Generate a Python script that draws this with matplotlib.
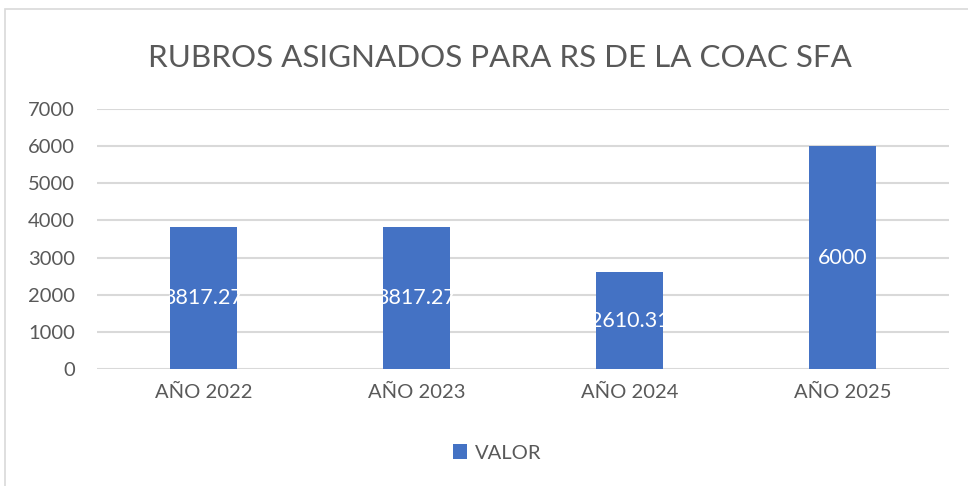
import matplotlib.pyplot as plt
from matplotlib.patches import Rectangle

# data
years = ['AÑO 2022', 'AÑO 2023', 'AÑO 2024', 'AÑO 2025']
valor = [3817.27, 3817.27, 2610.31, 6000]
labels = ['3817.27', '3817.27', '2610.31', '6000']

plt.rcParams['font.family'] = ['Lato', 'DejaVu Sans']
txt = '#595959'
grid = '#D9D9D9'
blue = '#4472C4'

fig = plt.figure(figsize=(9.68, 4.86), dpi=100)
ax = fig.add_axes([0.1002, 0.2407, 0.8802, 0.535])

# outer chart frame
fig.patches.append(Rectangle((5 / 968, -0.1), 1.2, 1 - 9 / 486 + 0.1, transform=fig.transFigure,
                             fill=False, edgecolor=grid, linewidth=1.2))

x = range(len(years))
bars = ax.bar(x, valor, width=0.315, color=blue, label='VALOR', zorder=3)

# white value labels in the middle of each bar, clipped to the bar
for b, lab in zip(bars, labels):
    t = ax.text(b.get_x() + b.get_width() / 2, b.get_height() / 2, lab,
                ha='center', va='center', color='white', fontsize=15.5, zorder=4)
    t.set_clip_path(b)

ax.set_xlim(-0.5, 3.5)
ax.set_ylim(0, 7000)
ax.set_yticks(range(0, 7001, 1000))
ax.set_xticks(list(x))
ax.set_xticklabels(years)
ax.yaxis.grid(True, color=grid, linewidth=1.5, zorder=0)
for s in ax.spines.values():
    s.set_visible(False)
ax.tick_params(axis='both', length=0, labelsize=14.5, colors=txt)
ax.tick_params(axis='y', pad=16)
ax.tick_params(axis='x', pad=11)

fig.text(0.516, 0.880, 'RUBROS ASIGNADOS PARA RS DE LA COAC SFA', ha='center', va='center',
         fontsize=22.6, color=txt)

fig.legend(handles=[bars], labels=['VALOR'], loc='center', bbox_to_anchor=(0.514, 0.068),
           frameon=False, fontsize=14.5, labelcolor=txt, handlelength=0.7, handleheight=0.7,
           handletextpad=0.4)

plt.savefig('out.png', dpi=100)
